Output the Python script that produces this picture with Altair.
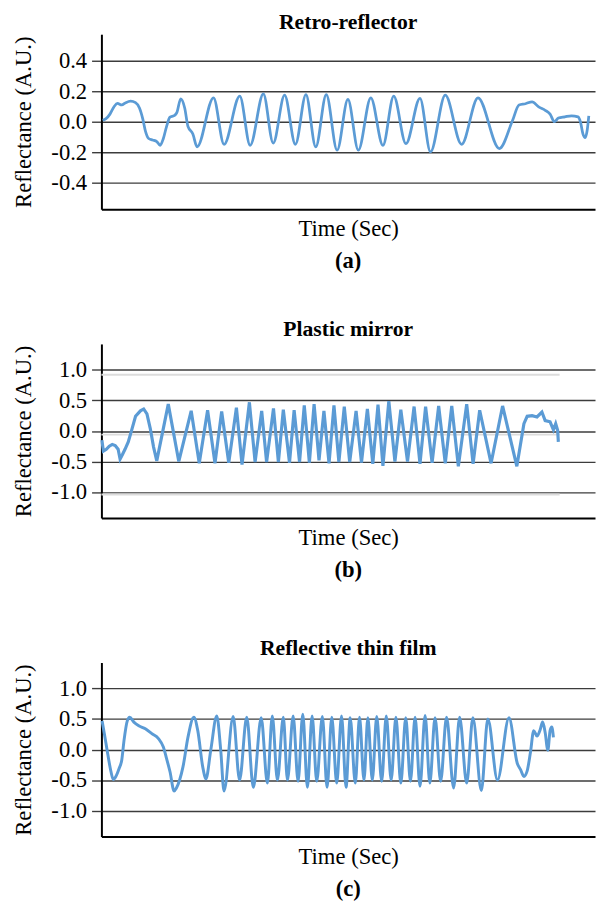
import altair as alt
import pandas as pd

# ---------------- data (time in arbitrary sample units, reflectance in A.U.) -------------
a_time = [1.3, 4.7, 8.7, 13, 16.3, 20.7, 24.7, 29.7, 34.7, 38.7, 42, 44.7, 48, 52, 56.3,
          59.7, 63, 66.3, 69.7, 74, 76.7, 80.7, 84.7, 88, 93, 97.3, 114, 124.7, 140.7,
          151.3, 164.7, 174.7, 186.3, 197.3, 208, 218, 228.7, 239.7, 250.7, 261.3, 274,
          286.3, 297.3, 309.7, 324, 334.7, 349.7, 366.3, 383, 404.7, 418, 424.7, 431.3,
          438, 444.7, 451.3, 456.3, 460.7, 464.7, 471.3, 478, 484.7, 487.3, 489.7, 492,
          494, 495.7]
a_refl = [0.01, 0.02, 0.05, 0.10, 0.12, 0.11, 0.125, 0.135, 0.125, 0.09, 0.02, -0.06,
          -0.11, -0.12, -0.13, -0.155, -0.11, -0.03, 0.03, 0.04, 0.06, 0.15, 0.09, -0.03,
          -0.08, -0.165, 0.157, -0.148, 0.168, -0.155, 0.183, -0.14, 0.174, -0.148, 0.178,
          -0.165, 0.178, -0.187, 0.146, -0.187, 0.157, -0.155, 0.168, -0.144, 0.153,
          -0.198, 0.174, -0.148, 0.157, -0.176, 0.006, 0.11, 0.118, 0.131, 0.097, 0.075,
          0.05, 0.0, 0.024, 0.032, 0.039, 0.032, -0.004, -0.08, -0.105, -0.058, 0.039]

b_time = [0.5, 2, 5, 8, 11, 14, 17, 19, 21.3, 24, 27.3, 30.7, 34.7, 39.7, 43, 46.3, 49.7,
          53, 56.3, 68, 78.7, 91.3, 99.5, 108, 115.5, 122.3, 129.5, 137.3, 143, 150.5,
          156.3, 163, 168, 175, 180, 185, 191.3, 196, 201.5, 206.3, 211.5, 216.3, 221.3,
          226.3, 231.5, 236.5, 241.5, 247, 252.5, 259, 264.5, 270.5, 276, 281.3, 286.3,
          292.3, 298.5, 304.5, 311.3, 318, 324, 329.7, 336.3, 343, 349.7, 356.3, 363,
          371.5, 378, 384.7, 396.3, 408, 422.5, 429.7, 433, 438, 443, 448, 451.3, 456.3,
          459.7, 462, 464, 464.7]
b_refl = [-0.15, -0.33, -0.30, -0.25, -0.22, -0.24, -0.30, -0.46, -0.39, -0.30, -0.18,
          0.01, 0.24, 0.33, 0.36, 0.28, 0.04, -0.26, -0.49, 0.44, -0.50, 0.33, -0.53, 0.34,
          -0.53, 0.32, -0.52, 0.38, -0.55, 0.47, -0.51, 0.33, -0.51, 0.37, -0.51, 0.35,
          -0.52, 0.34, -0.51, 0.42, -0.52, 0.44, -0.48, 0.33, -0.53, 0.42, -0.51, 0.40,
          -0.51, 0.33, -0.52, 0.36, -0.54, 0.43, -0.57, 0.49, -0.50, 0.35, -0.50, 0.40,
          -0.54, 0.40, -0.52, 0.41, -0.53, 0.41, -0.58, 0.44, -0.54, 0.34, -0.53, 0.41,
          -0.58, 0.12, 0.24, 0.25, 0.23, 0.31, 0.17, 0.15, 0.02, 0.12, 0.01, -0.18]
b_faint_levels = [0.92, -0.06, -1.04]
b_faint_start = [0, 0, 0]
b_faint_end = [466, 466, 466]

c_time = [0.7, 3, 6.3, 9.7, 12, 14.7, 18, 20.7, 23, 26.3, 28.7, 33, 38, 44.7, 51.3, 58,
          63, 66.3, 69.7, 74, 76.3, 79.7, 83, 88, 94, 98, 103, 106.3, 111.3, 117.3, 121.3,
          124.7, 134, 140.5, 147.8, 154.5, 162.5, 168.8, 173.8, 179, 185, 189.2, 195, 200,
          204.8, 209.5, 214.3, 219, 224.7, 229.5, 234.3, 239.3, 244.2, 248.8, 253, 258.2,
          262.5, 267, 271, 275.5, 280, 285, 289.7, 294.7, 299.5, 304.5, 309.5, 314.3, 319,
          324, 329.2, 334, 339.3, 345, 351, 358.2, 364.3, 371.5, 377.8, 386.4, 393, 402.8,
          414.5, 423, 426.3, 429.7, 433, 436.3, 439.7, 443, 446.3, 448.7, 451.3, 454,
          456.3, 458, 459.7]
c_refl = [0.47, 0.26, -0.06, -0.36, -0.49, -0.44, -0.31, -0.17, 0.15, 0.47, 0.53, 0.45,
          0.39, 0.34, 0.26, 0.18, 0.04, -0.15, -0.36, -0.68, -0.63, -0.49, -0.28, 0.2,
          0.53, 0.31, -0.28, -0.48, 0.0, 0.55, 0.0, -0.68, 0.54, -0.50, 0.53, -0.62, 0.52,
          -0.55, 0.55, -0.50, 0.53, -0.50, 0.55, -0.52, 0.58, -0.62, 0.55, -0.52, 0.54,
          -0.62, 0.53, -0.55, 0.55, -0.62, 0.52, -0.55, 0.53, -0.50, 0.52, -0.50, 0.54,
          -0.52, 0.55, -0.50, 0.53, -0.55, 0.52, -0.52, 0.53, -0.60, 0.56, -0.55, 0.52,
          -0.52, 0.53, -0.63, 0.53, -0.55, 0.52, -0.67, 0.50, -0.50, 0.52, -0.23, -0.33,
          -0.44, -0.35, -0.05, 0.31, 0.22, 0.33, 0.45, 0.28, -0.01, 0.31, 0.37, 0.2]

a_ticks = [0.4, 0.2, 0.0, -0.2, -0.4]
bc_ticks = [1.0, 0.5, 0.0, -0.5, -1.0]
a_domain = [-0.574, 0.574]
bc_domain = [-1.426, 1.426]
x_domain = [0, 502]
panel_titles = ["Retro-reflector", "Plastic mirror", "Reflective thin film"]
panel_labels = ["(a)", "(b)", "(c)"]

# ---------------- styling -------------
FONT = "Liberation Serif"
FS = 23
W = 502
BLUE = "#5B9BD5"
GRID = "#3c3c3c"


def text_layer(s, y, size):
    return alt.Chart(pd.DataFrame({"s": [s]})).mark_text(
        font=FONT, fontSize=size, fontWeight="bold", color="black",
        align="center", baseline="middle").encode(
        text="s:N", x=alt.value(W / 2), y=alt.value(y))


def make_panel(times, refl, ticks, domain, title, label, h, interp, sw, title_y,
               faint=None):
    df = pd.DataFrame({"t": times, "v": refl})
    xenc = alt.X(
        "t:Q",
        scale=alt.Scale(domain=x_domain, nice=False, zero=False),
        axis=alt.Axis(labels=False, ticks=False, grid=False, domainColor="black",
                      domainWidth=2, title="Time (Sec)", titleFont=FONT, titleFontSize=FS,
                      titleFontWeight="normal", titleColor="black", titlePadding=9),
    )
    yenc = alt.Y(
        "v:Q",
        scale=alt.Scale(domain=domain, nice=False, zero=False),
        axis=alt.Axis(values=ticks,
                      labelExpr="replace(format(datum.value, '.1f'), '\u2212', '-')",
                      grid=True, gridColor=GRID, gridWidth=1.4, tickColor=GRID,
                      tickWidth=1.4, tickSize=10, domainColor="black", domainWidth=2,
                      labelFont=FONT, labelFontSize=FS, labelColor="black", labelPadding=5,
                      title="Reflectance (A.U.)", titleFont=FONT, titleFontSize=FS,
                      titleFontWeight="normal", titleColor="black", titlePadding=16),
    )
    layers = []
    if faint is not None:
        fdf = pd.DataFrame({"t": faint[1], "t2": faint[2], "v": faint[0]})
        layers.append(
            alt.Chart(fdf).mark_rule(color="#dcdcdc", strokeWidth=2).encode(
                x=alt.X("t:Q"), x2="t2:Q", y=alt.Y("v:Q"))
        )
    layers.append(
        alt.Chart(df).mark_line(color=BLUE, strokeWidth=sw, interpolate=interp).encode(
            x=xenc, y=yenc)
    )
    layers.append(text_layer(title, title_y, 22))
    layers.append(text_layer(label, h + 53, FS))
    return alt.layer(*layers).properties(width=W, height=h)


pa = make_panel(a_time, a_refl, a_ticks, a_domain, panel_titles[0], panel_labels[0],
                178, "monotone", 2.8, -12.5)
pb = make_panel(b_time, b_refl, bc_ticks, bc_domain, panel_titles[1], panel_labels[1],
                177, "linear", 3.2, -15, faint=(b_faint_levels, b_faint_start, b_faint_end))
pc = make_panel(c_time, c_refl, bc_ticks, bc_domain, panel_titles[2], panel_labels[2],
                177, "monotone", 3.0, -15)

inner = alt.vconcat(pb, pc, spacing=54)
chart = alt.vconcat(pa, inner, spacing=44).properties(
    padding={"left": 4, "top": -5, "right": 0, "bottom": 0},
    background="white",
).configure_view(stroke="transparent")

chart.save("out.html", embed_options={"renderer": "svg", "actions": False})
